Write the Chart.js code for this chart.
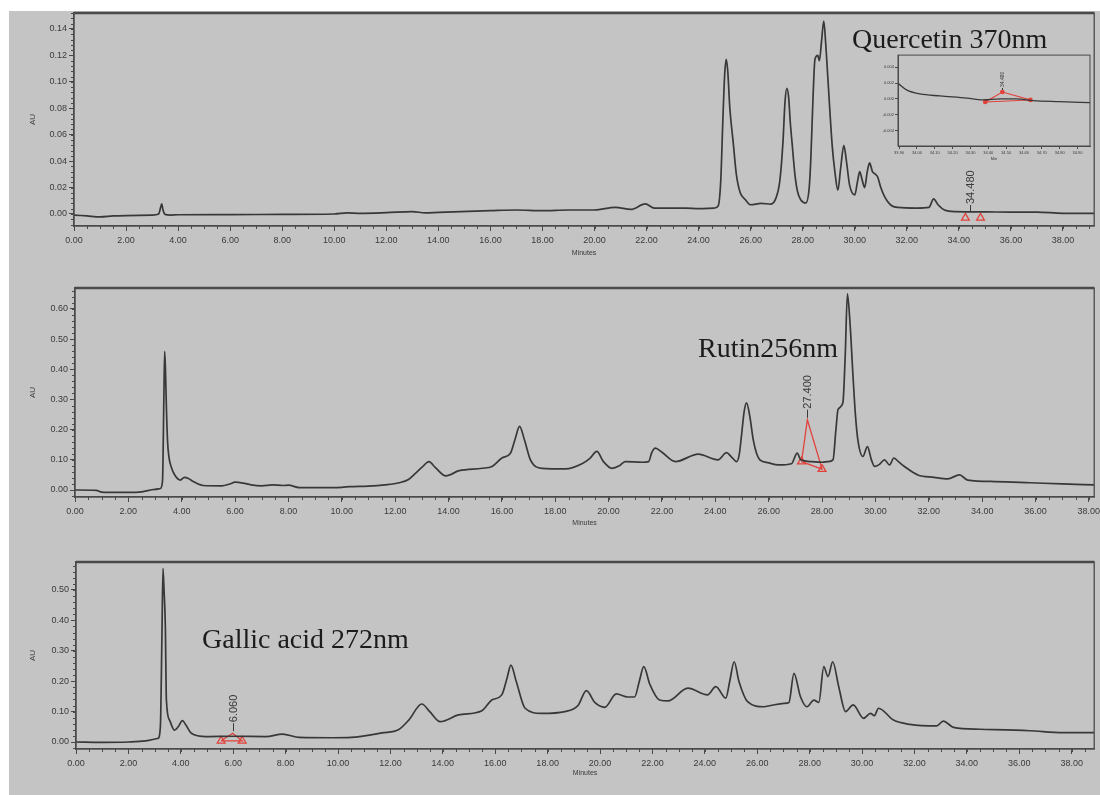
<!DOCTYPE html>
<html>
<head>
<meta charset="utf-8">
<title>HPLC chromatograms</title>
<script src="https://cdn.jsdelivr.net/npm/chart.js@4.4.0/dist/chart.umd.min.js"></script>
<style>
  body { margin: 0; background: #ffffff; }
  #sheet { position: relative; width: 1100px; height: 795px; overflow: hidden; }
  #grey { position: absolute; left: 9px; top: 11px; right: 0; bottom: 0; background: #c4c4c4; }
  canvas { position: absolute; }
  .tag { position: absolute; font-family: "Liberation Serif", "Times New Roman", serif; font-size: 28px; line-height: 28px; color: #1c1c1c; white-space: nowrap; }
</style>
</head>
<body>
<div id="sheet">
  <div id="grey"></div>
  <canvas id="quercetinChart" width="1100" height="258" style="left:0;top:0"></canvas>
  <canvas id="rutinChart" width="1100" height="272" style="left:0;top:258px"></canvas>
  <canvas id="gallicChart" width="1100" height="265" style="left:0;top:530px"></canvas>
  <canvas id="insetChart" width="224" height="112" style="left:876px;top:50px"></canvas>
  <div class="tag" style="left:852px;top:25px">Quercetin 370nm</div>
  <div class="tag" style="left:698px;top:334px">Rutin256nm</div>
  <div class="tag" style="left:202px;top:625px">Gallic acid 272nm</div>
</div>

<script>
//  Shared axis ticks
const minuteTicks = [0, 2, 4, 6, 8, 10, 12, 14, 16, 18, 20, 22, 24, 26, 28, 30, 32, 34, 36, 38];
const quercetinYTicks = [0, 0.02, 0.04, 0.06, 0.08, 0.10, 0.12, 0.14];
const rutinYTicks = [0, 0.10, 0.20, 0.30, 0.40, 0.50, 0.60];
const gallicYTicks = [0, 0.10, 0.20, 0.30, 0.40, 0.50];

//  Quercetin 370nm trace (minutes / AU)
const quercetinTimes = [
    0, 0.5, 1.0, 1.5, 2.0, 3.0, 3.25, 3.33, 3.37, 3.42,
    3.5, 3.7, 4.0, 6.0, 8.0, 10.0, 10.5, 11.0, 12.0, 13.0,
    13.5, 14.0, 16.0, 17.0, 18.0, 19.0, 20.0, 20.8, 21.4, 21.95,
    22.3, 23.5, 24.0, 24.6, 24.75, 24.85, 24.93, 25.0, 25.06, 25.12,
    25.2, 25.33, 25.45, 25.6, 25.79, 26.0, 26.4, 26.78, 26.97, 27.12,
    27.24, 27.32, 27.39, 27.46, 27.52, 27.59, 27.7, 27.8, 27.93, 28.12,
    28.25, 28.31, 28.4, 28.47, 28.58, 28.64, 28.72, 28.81, 28.88, 28.96,
    29.04, 29.14, 29.23, 29.35, 29.46, 29.58, 29.68, 29.8, 30.0, 30.1,
    30.19, 30.28, 30.38, 30.48, 30.57, 30.68, 30.8, 30.88, 31.0, 31.15,
    31.38, 31.65, 32.38, 32.85, 33.03, 33.2, 33.45, 33.87, 35.0, 36.0,
    37.0, 38.0, 39.2
];
const quercetinAU = [
    -0.0008, -0.0015, -0.0022, -0.0015, -0.0012, -0.0008, 0.0, 0.005, 0.0076, 0.003,
    -0.0003, -0.0008, -0.0006, -0.0005, -0.0003, 0.0, 0.0008, 0.0005, 0.001, 0.0018,
    0.0008, 0.0012, 0.0025, 0.003, 0.0025, 0.003, 0.003, 0.005, 0.0035, 0.0076,
    0.0045, 0.0045, 0.004, 0.0045, 0.006, 0.025, 0.07, 0.105, 0.117, 0.108,
    0.08, 0.054, 0.03, 0.016, 0.011, 0.007, 0.008, 0.0075, 0.012, 0.025,
    0.054, 0.085, 0.095, 0.088, 0.07, 0.054, 0.03, 0.017, 0.0106, 0.0083,
    0.02, 0.041, 0.09, 0.117, 0.12, 0.116, 0.13, 0.146, 0.13, 0.105,
    0.079, 0.05, 0.033, 0.018, 0.035, 0.052, 0.04, 0.022, 0.0144, 0.024,
    0.032, 0.026, 0.02, 0.032, 0.0386, 0.032, 0.03, 0.028, 0.02, 0.013,
    0.0068, 0.005, 0.0045, 0.005, 0.0114, 0.007, 0.003, 0.0018, 0.0016, 0.0014,
    0.0014, 0.0005, 0.0005
];
const quercetinMarkTimes = [34.25, 34.83];
const quercetinMarkAU = [-0.003, -0.003];

//  Rutin 256nm trace
const rutinTimes = [
    0, 0.8, 1.0, 1.5, 2.0, 2.5, 3.0, 3.2, 3.28, 3.33,
    3.36, 3.39, 3.43, 3.47, 3.52, 3.6, 3.75, 3.95, 4.1, 4.25,
    4.45, 4.8, 5.5, 5.8, 6.0, 6.3, 6.6, 7.0, 7.4, 7.8,
    8.0, 8.4, 9.0, 10.0, 10.3, 11.0, 11.6, 12.15, 12.5, 12.77,
    13.0, 13.27, 13.5, 13.9, 14.4, 15.26, 15.63, 16.0, 16.32, 16.5,
    16.66, 16.85, 17.07, 17.5, 18.38, 19.0, 19.3, 19.56, 19.8, 20.12,
    20.4, 20.62, 21.25, 21.5, 21.62, 21.75, 22.0, 22.5, 23.36, 24.1,
    24.42, 24.6, 24.8, 24.9, 24.98, 25.08, 25.17, 25.3, 25.42, 25.55,
    25.67, 26.0, 26.36, 26.85, 27.07, 27.2, 27.6, 28.0, 28.22, 28.41,
    28.52, 28.6, 28.78, 28.87, 28.95, 29.05, 29.16, 29.25, 29.35, 29.53,
    29.7, 29.85, 29.97, 30.15, 30.34, 30.53, 30.69, 30.85, 31.09, 31.59,
    32.2, 32.71, 33.15, 33.46, 34.5, 35.8, 37.0, 38.2
];
const rutinAU = [
    0.0, -0.001, -0.007, -0.008, -0.008, -0.006, 0.002, 0.005, 0.03, 0.30,
    0.46, 0.40, 0.26, 0.16, 0.11, 0.078, 0.048, 0.033, 0.042, 0.038,
    0.027, 0.015, 0.014, 0.02, 0.026, 0.023, 0.017, 0.014, 0.017, 0.015,
    0.016, 0.008, 0.008, 0.009, 0.011, 0.013, 0.017, 0.024, 0.035, 0.056,
    0.075, 0.094, 0.075, 0.047, 0.064, 0.072, 0.078, 0.106, 0.122, 0.17,
    0.211, 0.165, 0.10, 0.072, 0.07, 0.087, 0.105, 0.128, 0.095, 0.072,
    0.08, 0.094, 0.092, 0.094, 0.125, 0.139, 0.125, 0.094, 0.119, 0.10,
    0.124, 0.11, 0.094, 0.12, 0.18, 0.26, 0.289, 0.24, 0.167, 0.12,
    0.10, 0.09, 0.083, 0.087, 0.122, 0.10, 0.094, 0.092, 0.094, 0.10,
    0.2, 0.267, 0.289, 0.45, 0.65, 0.55, 0.378, 0.25, 0.161, 0.111,
    0.144, 0.1, 0.078, 0.085, 0.10, 0.083, 0.106, 0.095, 0.078, 0.05,
    0.042, 0.037, 0.05, 0.033, 0.028, 0.024, 0.02, 0.017
];
const rutinMarkTimes = [27.23, 28.0];
const rutinMarkAU = [0.094, 0.069];
const rutinPeakTimes = [27.23, 27.45, 28.0, 27.23];
const rutinPeakAU = [0.094, 0.233, 0.069, 0.094];

//  Gallic acid 272nm trace
const gallicTimes = [
    0, 1.0, 2.0, 2.55, 3.13, 3.22, 3.28, 3.32, 3.36, 3.41,
    3.45, 3.57, 3.76, 3.9, 4.06, 4.2, 4.4, 4.97, 6.0, 7.25,
    7.88, 8.52, 9.78, 10.5, 11.68, 12.32, 12.7, 13.2, 13.5, 13.9,
    14.6, 15.49, 15.87, 16.25, 16.45, 16.6, 16.8, 17.14, 17.77, 18.66,
    19.16, 19.48, 19.8, 20.18, 20.62, 21.06, 21.32, 21.5, 21.67, 21.9,
    22.27, 22.59, 23.35, 24.1, 24.42, 24.8, 24.95, 25.12, 25.3, 25.63,
    26.26, 26.51, 27.02, 27.21, 27.4, 27.65, 27.9, 28.16, 28.35, 28.54,
    28.7, 28.88, 29.11, 29.37, 29.66, 30.06, 30.32, 30.47, 30.63, 31.2,
    31.83, 32.85, 33.1, 33.49, 34.5, 36.4, 37.67, 38.86
];
const gallicAU = [
    0.0, -0.001, 0.0, 0.003, 0.012, 0.05, 0.35, 0.571, 0.50, 0.38,
    0.138, 0.072, 0.039, 0.05, 0.07, 0.055, 0.029, 0.018, 0.019, 0.018,
    0.026, 0.015, 0.014, 0.015, 0.03, 0.041, 0.072, 0.125, 0.1, 0.067,
    0.089, 0.103, 0.138, 0.155, 0.21, 0.253, 0.2, 0.111, 0.094, 0.1,
    0.12, 0.169, 0.13, 0.114, 0.158, 0.148, 0.148, 0.2, 0.248, 0.19,
    0.138, 0.135, 0.177, 0.155, 0.182, 0.144, 0.2, 0.264, 0.2, 0.133,
    0.116, 0.12, 0.127, 0.13, 0.226, 0.149, 0.116, 0.138, 0.13, 0.248,
    0.215, 0.264, 0.182, 0.1, 0.122, 0.078, 0.094, 0.087, 0.111, 0.072,
    0.058, 0.053, 0.069, 0.048, 0.042, 0.037, 0.031, 0.031
];
const gallicMarkTimes = [5.54, 6.34];
const gallicMarkAU = [0.004, 0.004];
const gallicPeakTimes = [5.54, 5.98, 6.34, 5.54];
const gallicPeakAU = [0.004, 0.029, 0.004, 0.004];

//  Zoomed inset around the quercetin peak
const insetTimes = [33.894, 33.944, 34.018, 34.13, 34.28, 34.37, 34.467, 34.557, 34.65, 34.8, 34.97];
const insetAU = [0.00196, 0.0011, 0.000625, 0.000375, 0.0001, -0.000125, 0, 0, -0.0002, -0.00033, -0.00046];
const insetPeakTimes = [34.383, 34.479, 34.636, 34.383];
const insetPeakAU = [-0.000375, 0.000875, -0.000125, -0.000375];
const insetXTicks = [33.9, 34.0, 34.1, 34.2, 34.3, 34.4, 34.5, 34.6, 34.7, 34.8, 34.9];
const insetYTicks = [-0.004, -0.002, 0, 0.002, 0.004];

const SANS = "'Liberation Sans', Arial, sans-serif";
const TRACE = "#383838";
const AXIS = "#4a4a4a";
const LABEL = "#3a3a3a";
const RED = "#e2413a";

function points(times, values) {
    return times.map((t, i) => ({ x: t, y: values[i] }));
}

//  Box round the plot area plus the small minor ticks
const frameTicks = {
    id: "frameTicks",
    afterDraw(chart, args, opts) {
        const { ctx, chartArea: a, scales: { x, y } } = chart;
        ctx.save();
        ctx.strokeStyle = AXIS;
        ctx.lineWidth = opts.lineWidth || 1.3;
        ctx.strokeRect(a.left, a.top, a.right - a.left, a.bottom - a.top);
        if (opts.topWidth) {
            ctx.lineWidth = opts.topWidth;
            ctx.beginPath();
            ctx.moveTo(a.left, a.top);
            ctx.lineTo(a.right, a.top);
            ctx.stroke();
        }
        ctx.lineWidth = 1;
        ctx.beginPath();
        if (opts.xMinor) {
            const n = Math.floor(x.max / opts.xMinor);
            for (let i = 1; i <= n; i++) {
                const px = Math.round(x.getPixelForValue(i * opts.xMinor)) + 0.5;
                ctx.moveTo(px, a.bottom);
                ctx.lineTo(px, a.bottom + 3);
            }
        }
        if (opts.yMinor) {
            const first = Math.ceil(y.min / opts.yMinor);
            const last = Math.floor(y.max / opts.yMinor);
            for (let i = first; i <= last; i++) {
                const py = Math.round(y.getPixelForValue(i * opts.yMinor)) + 0.5;
                ctx.moveTo(a.left - 3, py);
                ctx.lineTo(a.left, py);
            }
        }
        ctx.stroke();
        ctx.restore();
    }
};

//  Upright retention time label above an integrated peak
const peakLabels = {
    id: "peakLabels",
    afterDatasetsDraw(chart, args, opts) {
        if (!opts.items) return;
        const { ctx, scales: { x, y } } = chart;
        opts.items.forEach(item => {
            const px = Math.round(x.getPixelForValue(item.t)) + 0.5;
            const py = y.getPixelForValue(item.au);
            ctx.save();
            ctx.strokeStyle = LABEL;
            ctx.lineWidth = 1;
            ctx.beginPath();
            ctx.moveTo(px, py - item.gap);
            ctx.lineTo(px, py - item.gap - item.stem);
            ctx.stroke();
            ctx.translate(px, py - item.gap - item.stem - 1);
            ctx.rotate(-Math.PI / 2);
            ctx.font = item.size + "px " + SANS;
            ctx.fillStyle = LABEL;
            ctx.textAlign = "left";
            ctx.textBaseline = "middle";
            ctx.fillText(item.text, 0, 0);
            ctx.restore();
        });
    }
};

function buildPanel(canvasId, p) {
    const ctx = document.getElementById(canvasId).getContext("2d");
    const datasets = [{
        data: points(p.times, p.values),
        borderColor: TRACE,
        borderWidth: 1.7,
        pointRadius: 0,
        cubicInterpolationMode: "monotone"
    }];
    if (p.peakTimes) {
        datasets.push({
            data: points(p.peakTimes, p.peakValues),
            borderColor: RED,
            borderWidth: 1.3,
            pointRadius: 0,
            tension: 0
        });
    }
    datasets.push({
        data: points(p.markTimes, p.markValues),
        showLine: false,
        pointStyle: "triangle",
        pointRadius: 4.5,
        pointBorderWidth: 1.3,
        pointBorderColor: RED,
        pointBackgroundColor: "rgba(0,0,0,0)"
    });

    return new Chart(ctx, {
        type: "line",
        data: { datasets: datasets },
        plugins: [frameTicks, peakLabels],
        options: {
            responsive: false,
            animation: false,
            devicePixelRatio: 1,
            layout: { padding: { top: p.padTop, right: p.padRight, left: 0, bottom: 0 } },
            plugins: {
                legend: { display: false },
                tooltip: { enabled: false },
                frameTicks: { xMinor: 0.5, yMinor: p.yMinor, topWidth: 2.5 },
                peakLabels: { items: p.labels }
            },
            scales: {
                x: {
                    type: "linear",
                    min: 0,
                    max: p.xMax,
                    afterBuildTicks: s => { s.ticks = minuteTicks.filter(v => v <= p.xMax).map(v => ({ value: v })); },
                    afterFit: s => { s.height = p.xAxisHeight; s.paddingLeft = 0; s.paddingRight = 0; },
                    ticks: {
                        callback: v => Number(v).toFixed(2),
                        font: { size: 9, family: SANS },
                        color: LABEL,
                        padding: 4,
                        maxRotation: 0,
                        autoSkip: false
                    },
                    grid: { drawOnChartArea: false, tickLength: 5, tickColor: AXIS },
                    border: { color: AXIS, width: 1.3 },
                    title: {
                        display: true,
                        text: "Minutes",
                        font: { size: 7, family: SANS },
                        color: LABEL,
                        padding: { top: 0, bottom: p.titlePad }
                    }
                },
                y: {
                    type: "linear",
                    min: p.yMin,
                    max: p.yMax,
                    afterBuildTicks: s => { s.ticks = p.yTicks.map(v => ({ value: v })); },
                    afterFit: s => { s.width = p.yAxisWidth; s.paddingTop = 0; s.paddingBottom = 0; },
                    ticks: {
                        callback: v => Number(v).toFixed(2),
                        font: { size: 9, family: SANS },
                        color: LABEL,
                        padding: 2
                    },
                    grid: { drawOnChartArea: false, tickLength: 5, tickColor: AXIS },
                    border: { color: AXIS, width: 1.3 },
                    title: {
                        display: true,
                        text: "AU",
                        font: { size: 8, family: SANS },
                        color: LABEL,
                        padding: { top: 28, bottom: 0 }
                    }
                }
            }
        }
    });
}

function buildInset() {
    const ctx = document.getElementById("insetChart").getContext("2d");
    new Chart(ctx, {
        type: "line",
        data: {
            datasets: [{
                data: points(insetTimes, insetAU),
                borderColor: TRACE,
                borderWidth: 1.3,
                pointRadius: 0,
                cubicInterpolationMode: "monotone"
            }, {
                data: points(insetPeakTimes, insetPeakAU),
                borderColor: RED,
                borderWidth: 1.1,
                tension: 0,
                pointRadius: [1.8, 1.8, 1.8, 0],
                pointBackgroundColor: RED,
                pointBorderColor: RED
            }]
        },
        plugins: [frameTicks, peakLabels],
        options: {
            responsive: false,
            animation: false,
            devicePixelRatio: 1,
            layout: { padding: { top: 5, right: 10, left: 0, bottom: 0 } },
            plugins: {
                legend: { display: false },
                tooltip: { enabled: false },
                frameTicks: { lineWidth: 1 },
                peakLabels: { items: [{ t: 34.479, au: 0.000875, text: "34.480", size: 5, gap: 2, stem: 2 }] }
            },
            scales: {
                x: {
                    type: "linear",
                    min: 33.894,
                    max: 34.97,
                    afterBuildTicks: s => { s.ticks = insetXTicks.map(v => ({ value: v })); },
                    afterFit: s => { s.height = 16; s.paddingLeft = 0; s.paddingRight = 0; },
                    ticks: { callback: v => Number(v).toFixed(2), font: { size: 4, family: SANS }, color: LABEL, padding: 1, maxRotation: 0, autoSkip: false },
                    grid: { drawOnChartArea: false, tickLength: 3, tickColor: AXIS },
                    border: { color: AXIS, width: 1 },
                    title: { display: true, text: "Min", font: { size: 4, family: SANS }, color: LABEL, padding: { top: 0, bottom: 1 } }
                },
                y: {
                    type: "linear",
                    min: -0.0059,
                    max: 0.0055,
                    afterBuildTicks: s => { s.ticks = insetYTicks.map(v => ({ value: v })); },
                    afterFit: s => { s.width = 22; s.paddingTop = 0; s.paddingBottom = 0; },
                    ticks: { callback: v => Number(v).toFixed(3), font: { size: 4, family: SANS }, color: LABEL, padding: 1 },
                    grid: { drawOnChartArea: false, tickLength: 3, tickColor: AXIS },
                    border: { color: AXIS, width: 1 }
                }
            }
        }
    });
}

document.addEventListener("DOMContentLoaded", () => {
    buildPanel("quercetinChart", {
        times: quercetinTimes, values: quercetinAU,
        markTimes: quercetinMarkTimes, markValues: quercetinMarkAU,
        labels: [{ t: 34.44, au: 0.0015, text: "34.480", size: 11, gap: 1, stem: 6 }],
        xMax: 39.2, yMin: -0.0091, yMax: 0.1521, yTicks: quercetinYTicks, yMinor: 0.004,
        padTop: 13, padRight: 3, yAxisWidth: 74, xAxisHeight: 32, titlePad: 1
    });
    buildPanel("rutinChart", {
        times: rutinTimes, values: rutinAU,
        peakTimes: rutinPeakTimes, peakValues: rutinPeakAU,
        markTimes: rutinMarkTimes, markValues: rutinMarkAU,
        labels: [{ t: 27.45, au: 0.233, text: "27.400", size: 11, gap: 2, stem: 8 }],
        xMax: 38.2, yMin: -0.0232, yMax: 0.6696, yTicks: rutinYTicks, yMinor: 0.02,
        padTop: 30, padRight: 3, yAxisWidth: 75, xAxisHeight: 33, titlePad: 3
    });
    buildPanel("gallicChart", {
        times: gallicTimes, values: gallicAU,
        peakTimes: gallicPeakTimes, peakValues: gallicPeakAU,
        markTimes: gallicMarkTimes, markValues: gallicMarkAU,
        labels: [{ t: 5.98, au: 0.029, text: "6.060", size: 11, gap: 2, stem: 8 }],
        xMax: 38.86, yMin: -0.023, yMax: 0.592, yTicks: gallicYTicks, yMinor: 0.02,
        padTop: 32, padRight: 2, yAxisWidth: 76, xAxisHeight: 46, titlePad: 18
    });
    buildInset();
});
</script>
</body>
</html>
